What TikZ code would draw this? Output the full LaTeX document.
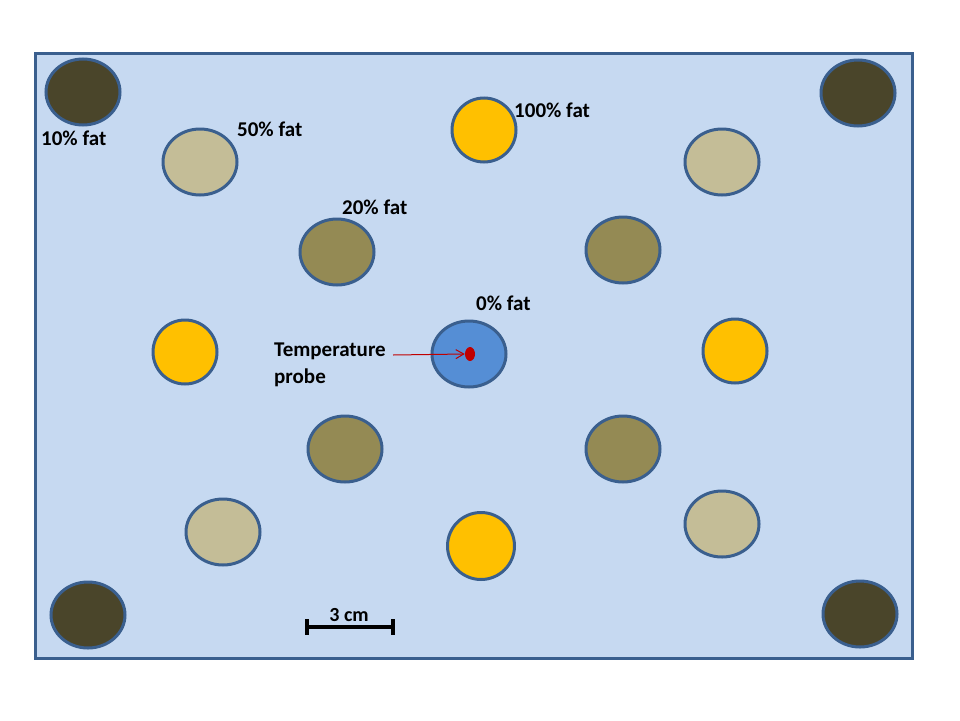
\documentclass[tikz,border=0pt]{standalone}
\usepackage{fontspec}
\setmainfont{Carlito}[BoldFont={Carlito Bold}]
\usetikzlibrary{shapes.geometric,arrows.meta}
\definecolor{bgblue}{HTML}{C6D9F1}
\definecolor{edgeblue}{HTML}{3A5F8E}
\definecolor{darkfat}{HTML}{4A452A}
\definecolor{tanfat}{HTML}{C4BD97}
\definecolor{olivefat}{HTML}{948A54}
\definecolor{yellowfat}{HTML}{FFC000}
\definecolor{bluefat}{HTML}{558ED5}
\definecolor{probered}{HTML}{C00000}
\begin{document}
\begin{tikzpicture}[x=1pt,y=-1pt,
  sample/.style={ellipse, draw=edgeblue, line width=3pt, inner sep=0pt},
  big/.style={sample, minimum width=74pt, minimum height=66pt},
  small/.style={sample, minimum width=64pt, minimum height=64pt},
  lbl/.style={anchor=west, inner sep=0pt, font=\fontsize{21}{27}\selectfont\bfseries},
  bar/.style={line width=3.4pt},
]
\useasboundingbox (0,0) rectangle (960,720);
\fill[white] (0,0) rectangle (960,720);
\node[draw=edgeblue, fill=bgblue, line width=2.8pt, minimum width=877pt, minimum height=605pt, inner sep=0pt, anchor=north west] (tray) at (34,52) {};

% dark samples (10% fat)
\node[big, fill=darkfat] (d1) at (83,92) {};
\node[big, fill=darkfat] (d2) at (858,93) {};
\node[big, fill=darkfat] (d3) at (88,615) {};
\node[big, fill=darkfat] (d4) at (860,614) {};
% tan samples (50% fat)
\node[big, fill=tanfat] (t1) at (200,162) {};
\node[big, fill=tanfat] (t2) at (722,162) {};
\node[big, fill=tanfat] (t3) at (223,532) {};
\node[big, fill=tanfat] (t4) at (722,524) {};
% olive samples (20% fat)
\node[big, fill=olivefat] (o1) at (337,252) {};
\node[big, fill=olivefat] (o2) at (623,250) {};
\node[big, fill=olivefat] (o3) at (345,449) {};
\node[big, fill=olivefat] (o4) at (623,449) {};
% yellow samples (100% fat)
\node[small, fill=yellowfat] (y1) at (484,130) {};
\node[small, fill=yellowfat] (y2) at (185,352) {};
\node[small, fill=yellowfat] (y3) at (735,351) {};
\node[small, fill=yellowfat, minimum width=67pt, minimum height=67pt] (y4) at (481,546) {};
% blue sample (0% fat)
\node[big, fill=bluefat] (b1) at (469,354) {};
\node[ellipse, fill=probered, minimum width=10pt, minimum height=14pt, inner sep=0pt] (dot) at (470,354) {};

% labels
\node[lbl] (l10) at (41,138) {10\% fat};
\node[lbl] (l50) at (237,129) {50\% fat};
\node[lbl] (l100) at (514,110) {100\% fat};
\node[lbl] (l20) at (342,207) {20\% fat};
\node[lbl] (l0) at (476,303) {0\% fat};
\node[lbl, align=left, anchor=north west] (lprobe) at (274,343) {Temperature\\probe};
\coordinate (pstart) at (393,355);
\draw[probered, line width=1pt, -{Straight Barb[length=8pt,width=9pt]}] (pstart) -- (dot.west);

% scale bar
\coordinate (s1) at (307,627);
\coordinate (s2) at (393,627);
\draw[bar] (s1) -- (s2);
\draw[bar] (307,619) -- (307,635);
\draw[bar] (393,619) -- (393,635);
\node[font=\fontsize{20}{24}\selectfont\bfseries, inner sep=0pt] (scale) at (349,615) {3 cm};
\end{tikzpicture}
\end{document}
